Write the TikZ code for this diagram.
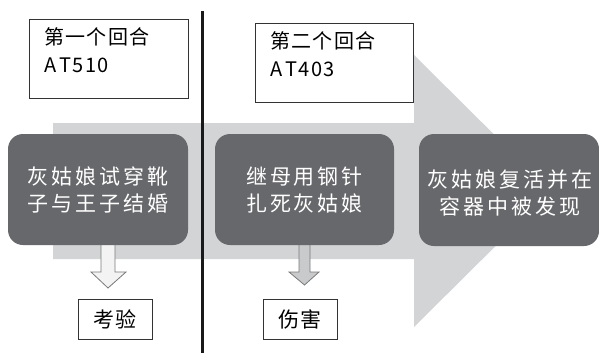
\documentclass[tikz,border=0pt]{standalone}
\usepackage{fontspec}
\newfontfamily\cjk{Noto Sans CJK SC}
\newfontfamily\cjkwide{Noto Sans CJK SC}[LetterSpace=14]
\newfontfamily\cjkmid{Noto Sans CJK SC}[LetterSpace=7]
\definecolor{boxdark}{HTML}{67686B}
\definecolor{shaftgray}{HTML}{D3D4D5}
\definecolor{arrowfillA}{HTML}{F3F3F3}
\definecolor{arrowfillB}{HTML}{C9CACB}
\definecolor{edgegray}{HTML}{7A7A7A}
\begin{document}
\begin{tikzpicture}[x=1pt,y=-1pt,
  eventbox/.style={fill=boxdark, rounded corners=15pt, draw=none},
  eventtext/.style={text=white, font=\cjkwide\fontsize{21}{27}\selectfont, align=center, inner sep=0pt},
  roundbox/.style={draw=black!80, line width=0.7pt, fill=white},
  roundtext/.style={font=\cjkmid\fontsize{20}{28}\selectfont, align=left, inner sep=0pt, anchor=north west},
  labelbox/.style={draw=black!80, line width=0.7pt, fill=white, minimum width=74pt, minimum height=40pt, font=\cjkmid\fontsize{21}{24}\selectfont, inner sep=0pt},
  downarrow/.style={draw=edgegray, line width=0.8pt, line join=miter}
]
\useasboundingbox (0,0) rectangle (599,353);
% big background arrow
\fill[shaftgray] (53,123) -- (414,123) -- (414,55) -- (551,191) -- (414,327) -- (414,259) -- (53,259) -- cycle;

% top round boxes
\draw[roundbox] (29,19) rectangle (188,98);
\node[roundtext] (r1) at (44,27) {第一个回合\\A\kern3pt T510};
\draw[roundbox] (255,23) rectangle (413,102);
\node[roundtext] (r2) at (270,31) {第二个回合\\A\kern3pt T403};

% down arrows
\draw[downarrow, fill=arrowfillA] (101,236) -- (115,236) -- (115,272) -- (126,272) -- (108,288) -- (91,272) -- (101,272) -- cycle;
\draw[downarrow, fill=arrowfillB] (299,236) -- (310,236) -- (310,272) -- (319,272) -- (304.5,285) -- (289,272) -- (299,272) -- cycle;

% event boxes
\fill[eventbox] (8,134) rectangle (188,245);
\node[eventtext] (e1) at (98,190) {灰姑娘试穿靴\\子与王子结婚};
\fill[eventbox] (215,134) rectangle (394,245);
\node[eventtext] (e2) at (304.5,190) {继母用钢针\\扎死灰姑娘};
\fill[eventbox] (419,134) rectangle (599,246);
\node[eventtext] (e3) at (510,193) {灰姑娘复活并在\\容器中被发现};

% divider
\draw[line width=2.6pt, black!90] (202.5,11) -- (202.5,353);

% labels
\node[labelbox] (k1) at (115,319) {考验};
\node[labelbox] (k2) at (300,319) {伤害};
\end{tikzpicture}
\end{document}
